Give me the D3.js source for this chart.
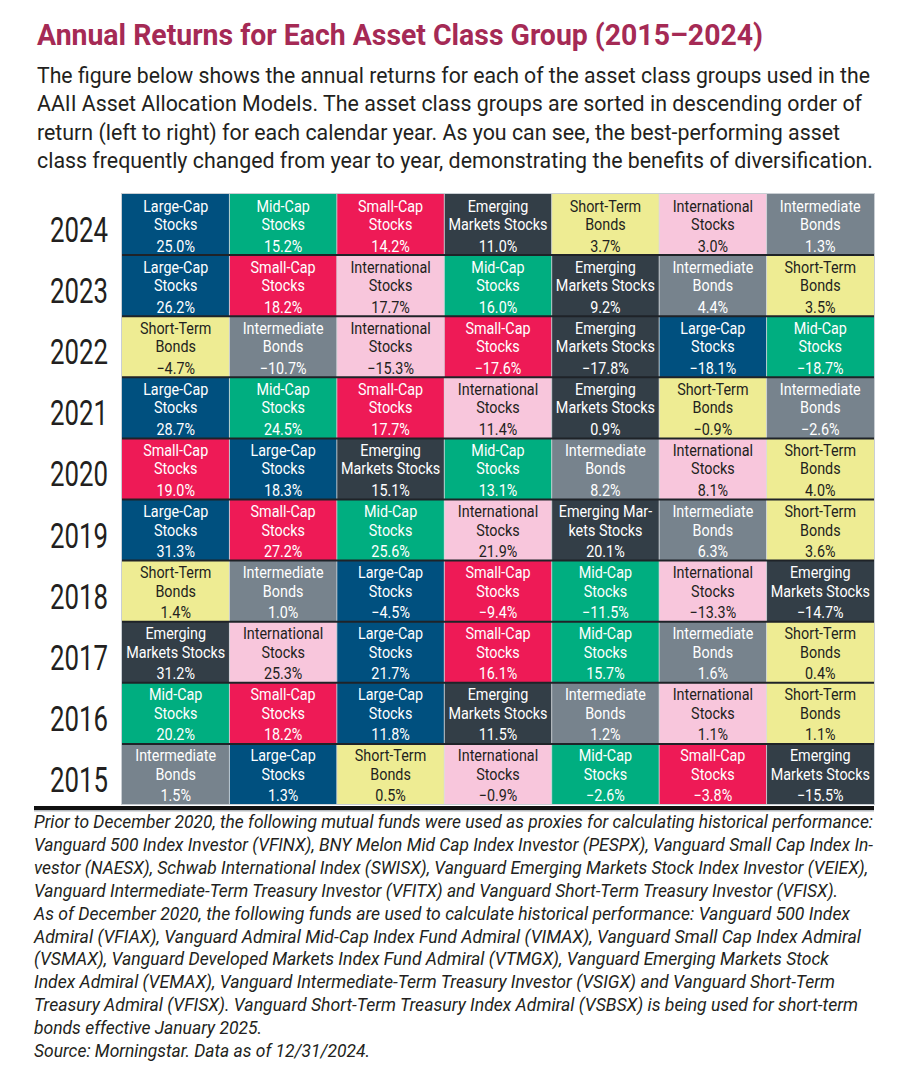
<!DOCTYPE html>
<html>
<head>
<meta charset="utf-8">
<script src="https://d3js.org/d3.v7.min.js"></script>
<style>
    body { margin: 0; background: #ffffff; }
    svg .font { font-family: Roboto, "Noto Sans", sans-serif; }
    svg .title { fill: #a52a55; font-size: 29px; font-weight: bold; }
    svg .intro { fill: #231f20; font-size: 22.5px; }
    svg .year { fill: #231f20; font-size: 35px; }
    svg .cell-text { font-size: 16.5px; }
    svg .note { fill: #231f20; font-size: 18px; font-style: italic; }
</style>
</head>
<body>
<script>
const SVG_WIDTH = 919;
const SVG_HEIGHT = 1080;

const TITLE_TXT = "Annual Returns for Each Asset Class Group (2015\u20132024)";
const INTRO_LINES = [
    "The figure below shows the annual returns for each of the asset class groups used in the",
    "AAII Asset Allocation Models. The asset class groups are sorted in descending order of",
    "return (left to right) for each calendar year. As you can see, the best-performing asset",
    "class frequently changed from year to year, demonstrating the benefits of diversification."
];
const NOTE_LINES = [
    "Prior to December 2020, the following mutual funds were used as proxies for calculating historical performance:",
    "Vanguard 500 Index Investor (VFINX), BNY Melon Mid Cap Index Investor (PESPX), Vanguard Small Cap Index In-",
    "vestor (NAESX), Schwab International Index (SWISX), Vanguard Emerging Markets Stock Index Investor (VEIEX),",
    "Vanguard Intermediate-Term Treasury Investor (VFITX) and Vanguard Short-Term Treasury Investor (VFISX).",
    "As of December 2020, the following funds are used to calculate historical performance: Vanguard 500 Index",
    "Admiral (VFIAX), Vanguard Admiral Mid-Cap Index Fund Admiral (VIMAX), Vanguard Small Cap Index Admiral",
    "(VSMAX), Vanguard Developed Markets Index Fund Admiral (VTMGX), Vanguard Emerging Markets Stock",
    "Index Admiral (VEMAX), Vanguard Intermediate-Term Treasury Investor (VSIGX) and Vanguard Short-Term",
    "Treasury Admiral (VFISX). Vanguard Short-Term Treasury Index Admiral (VSBSX) is being used for short-term",
    "bonds effective January 2025.",
    "Source: Morningstar. Data as of 12/31/2024."
];

// asset classes
const CLASS_KEYS = ["LC", "MC", "SC", "EM", "STB", "INTL", "IB"];
const CLASS_LABELS = [
    ["Large-Cap", "Stocks"],
    ["Mid-Cap", "Stocks"],
    ["Small-Cap", "Stocks"],
    ["Emerging", "Markets Stocks"],
    ["Short-Term", "Bonds"],
    ["International", "Stocks"],
    ["Intermediate", "Bonds"]
];
const CLASS_COLORS = ["#00507f", "#00ae80", "#ee1a56", "#333e47", "#eeec93", "#f8c6dc", "#77838d"];
const CLASS_TEXT_COLORS = ["#ffffff", "#ffffff", "#ffffff", "#ffffff", "#231f20", "#231f20", "#ffffff"];

const YEARS = [2024, 2023, 2022, 2021, 2020, 2019, 2018, 2017, 2016, 2015];
// order of classes per year, best to worst
const YEAR_ORDER = [
    ["LC", "MC", "SC", "EM", "STB", "INTL", "IB"],
    ["LC", "SC", "INTL", "MC", "EM", "IB", "STB"],
    ["STB", "IB", "INTL", "SC", "EM", "LC", "MC"],
    ["LC", "MC", "SC", "INTL", "EM", "STB", "IB"],
    ["SC", "LC", "EM", "MC", "IB", "INTL", "STB"],
    ["LC", "SC", "MC", "INTL", "EM", "IB", "STB"],
    ["STB", "IB", "LC", "SC", "MC", "INTL", "EM"],
    ["EM", "INTL", "LC", "SC", "MC", "IB", "STB"],
    ["MC", "SC", "LC", "EM", "IB", "INTL", "STB"],
    ["IB", "LC", "STB", "INTL", "MC", "SC", "EM"]
];
const YEAR_RETURNS = [
    [25.0, 15.2, 14.2, 11.0, 3.7, 3.0, 1.3],
    [26.2, 18.2, 17.7, 16.0, 9.2, 4.4, 3.5],
    [-4.7, -10.7, -15.3, -17.6, -17.8, -18.1, -18.7],
    [28.7, 24.5, 17.7, 11.4, 0.9, -0.9, -2.6],
    [19.0, 18.3, 15.1, 13.1, 8.2, 8.1, 4.0],
    [31.3, 27.2, 25.6, 21.9, 20.1, 6.3, 3.6],
    [1.4, 1.0, -4.5, -9.4, -11.5, -13.3, -14.7],
    [31.2, 25.3, 21.7, 16.1, 15.7, 1.6, 0.4],
    [20.2, 18.2, 11.8, 11.5, 1.2, 1.1, 1.1],
    [1.5, 1.3, 0.5, -0.9, -2.6, -3.8, -15.5]
];
// one cell in the source breaks its label differently
const LABEL_OVERRIDES = {"2019|EM": ["Emerging Mar-", "kets Stocks"]};

var cells = [];
for (var i = 0; i < YEARS.length; i++) {
    for (var j = 0; j < YEAR_ORDER[i].length; j++) {
        var key = YEAR_ORDER[i][j];
        var ci = CLASS_KEYS.indexOf(key);
        var over = LABEL_OVERRIDES[YEARS[i] + "|" + key];
        cells.push({
            year: YEARS[i],
            rank: j,
            key: key,
            value: YEAR_RETURNS[i][j],
            label: over ? over : CLASS_LABELS[ci],
            fill: CLASS_COLORS[ci],
            textFill: CLASS_TEXT_COLORS[ci]
        });
    }
}

// helpers for the condensed look
function fitWidth(sel, width) {
    sel.attr("textLength", width).attr("lengthAdjust", "spacingAndGlyphs");
}
function squeeze(sel, factor) {
    sel.each(function() {
        var w = this.getComputedTextLength();
        d3.select(this)
            .attr("textLength", w * factor)
            .attr("lengthAdjust", "spacingAndGlyphs");
    });
}
var pct = function(v) {
    return (v < 0 ? "\u2212" : "") + Math.abs(v).toFixed(1) + "%";
};

var svg = d3.select("body")
    .append("svg")
    .attr("width", SVG_WIDTH)
    .attr("height", SVG_HEIGHT);

// title + intro
svg.append("text")
    .attr("x", 37)
    .attr("y", 45)
    .text(TITLE_TXT)
    .classed("title font", true)
    .call(fitWidth, 726);

var introEnds = [870, 862, 840, 873];
svg.selectAll(".intro")
    .data(INTRO_LINES)
    .enter()
    .append("text")
    .classed("intro font", true)
    .attr("x", 37)
    .attr("y", function(d, i) { return 83 + i * 28.3; })
    .text(function(d) { return d; })
    .each(function(d, i) {
        d3.select(this).call(fitWidth, introEnds[i] - 37);
    });

// grid scales
var xScale = d3.scaleBand()
    .domain(d3.range(7))
    .range([122, 874]);
var yScale = d3.scaleBand()
    .domain(YEARS)
    .range([194, 805]);

svg.selectAll(".year")
    .data(YEARS)
    .enter()
    .append("text")
    .classed("year font", true)
    .attr("text-anchor", "middle")
    .attr("x", 79)
    .attr("y", function(d) { return yScale(d) + 48; })
    .text(function(d) { return d; })
    .call(fitWidth, 58);

var cellGroup = svg.selectAll(".cell")
    .data(cells)
    .enter()
    .append("g")
    .classed("cell", true)
    .attr("transform", function(d) {
        return "translate(" + xScale(d.rank) + "," + yScale(d.year) + ")";
    });

cellGroup.append("rect")
    .attr("width", xScale.bandwidth())
    .attr("height", yScale.bandwidth())
    .attr("fill", function(d) { return d.fill; });

var lineY = [17.5, 36, 57.5];
cellGroup.each(function(d) {
    var g = d3.select(this);
    var lines = [d.label[0], d.label[1], pct(d.value)];
    g.selectAll("text")
        .data(lines)
        .enter()
        .append("text")
        .classed("cell-text font", true)
        .attr("text-anchor", "middle")
        .attr("x", xScale.bandwidth() / 2)
        .attr("y", function(t, k) { return lineY[k]; })
        .attr("fill", d.textFill)
        .text(function(t) { return t; })
        .call(squeeze, 0.87);
});

// thin light column dividers
svg.selectAll(".col-line")
    .data(d3.range(1, 7))
    .enter()
    .append("line")
    .attr("x1", function(d) { return xScale(d); })
    .attr("x2", function(d) { return xScale(d); })
    .attr("y1", 194)
    .attr("y2", 805)
    .attr("stroke", "#d4d8dc")
    .attr("stroke-width", 0.8);

// dark row dividers
svg.selectAll(".row-line")
    .data(YEARS.slice(1))
    .enter()
    .append("line")
    .attr("x1", 122)
    .attr("x2", 874)
    .attr("y1", function(d) { return yScale(d); })
    .attr("y2", function(d) { return yScale(d); })
    .attr("stroke", "#1f2328")
    .attr("stroke-width", 2);

// outer light border
svg.append("rect")
    .attr("x", 121.5)
    .attr("y", 193.5)
    .attr("width", 753)
    .attr("height", 611)
    .attr("fill", "none")
    .attr("stroke", "#c9ced3")
    .attr("stroke-width", 1);

// bottom rule
svg.append("rect")
    .attr("x", 34)
    .attr("y", 806)
    .attr("width", 840)
    .attr("height", 4)
    .attr("fill", "#111111");
svg.append("rect")
    .attr("x", 34)
    .attr("y", 810)
    .attr("width", 840)
    .attr("height", 1.5)
    .attr("fill", "#b8bcc0");

// footnote
var noteEnds = [873, 873, 868, 838, 850, 861, 829, 835, 858, 262, 370];
svg.selectAll(".note")
    .data(NOTE_LINES)
    .enter()
    .append("text")
    .classed("note font", true)
    .attr("x", 34)
    .attr("y", function(d, i) { return 828 + i * 22.9; })
    .text(function(d) { return d; })
    .each(function(d, i) {
        d3.select(this).call(fitWidth, noteEnds[i] - 34);
    });
</script>
</body>
</html>
